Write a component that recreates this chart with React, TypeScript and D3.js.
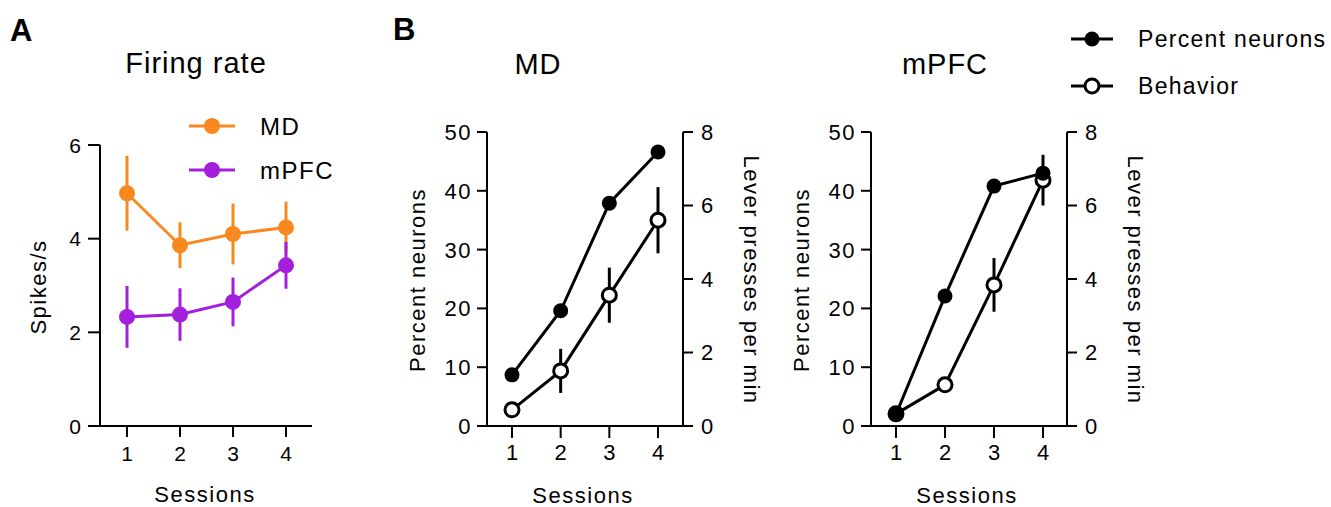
import { scaleLinear, line } from 'd3'

const FONT = '"Liberation Sans", Arial, Helvetica, sans-serif'

// Panel A: firing rate (spikes/s), mean and SEM per session
const sessions = [1, 2, 3, 4]
const firingTicks = [0, 2, 4, 6]
const firingMD = [4.97, 3.86, 4.1, 4.24]
const firingMDErr = [0.8, 0.49, 0.65, 0.55]
const firingPFC = [2.33, 2.38, 2.65, 3.43]
const firingPFCErr = [0.66, 0.56, 0.52, 0.5]

// Panel B: percent neurons (left axis) and behaviour (lever presses, right axis)
const percentTicks = [0, 10, 20, 30, 40, 50]
const leverTicks = [0, 2, 4, 6, 8]
const mdPercent = [8.7, 19.6, 37.9, 46.6]
const mdBehavior = [0.44, 1.5, 3.56, 5.6]
const mdBehaviorErr = [0.12, 0.6, 0.75, 0.9]
const pfcPercent = [2.0, 22.1, 40.8, 43.0]
const pfcBehavior = [0.33, 1.12, 3.84, 6.69]
const pfcBehaviorErr = [0.1, 0.18, 0.73, 0.69]

const ORANGE = '#f7891f'
const PURPLE = '#a31fdc'

const labelFont = { fontSize: 22, letterSpacing: 1.5 }
const titleFont = { fontSize: 29, letterSpacing: 1 }

function FiringPanel() {
	const axisX = 100
	const axisEnd = 312
	const x = scaleLinear().domain([1, 4]).range([127, 286])
	const y = scaleLinear().domain([0, 6]).range([426, 145])
	const path = line<number>()
		.x((_, i) => x(sessions[i]))
		.y((d) => y(d))

	const series = [
		{ name: 'MD', color: ORANGE, values: firingMD, err: firingMDErr },
		{ name: 'mPFC', color: PURPLE, values: firingPFC, err: firingPFCErr },
	]

	return (
		<g>
			<text x={10} y={41} fontSize={31} fontWeight="bold">A</text>
			<text x={196} y={73} textAnchor="middle" {...titleFont}>Firing rate</text>

			{/* axes */}
			<line x1={axisX} x2={axisX} y1={y(6)} y2={y(0)} stroke="#000" strokeWidth={2} />
			<line x1={axisX - 12} x2={axisEnd} y1={y(0)} y2={y(0)} stroke="#000" strokeWidth={2} />
			{firingTicks.map((t) => (
				<g key={t}>
					<line x1={axisX - 12} x2={axisX} y1={y(t)} y2={y(t)} stroke="#000" strokeWidth={2} />
					<text x={axisX - 18} y={y(t)} dy="0.36em" textAnchor="end" fontSize={21} letterSpacing={1}>{t}</text>
				</g>
			))}
			{sessions.map((s) => (
				<g key={s}>
					<line x1={x(s)} x2={x(s)} y1={y(0)} y2={y(0) + 11} stroke="#000" strokeWidth={2} />
					<text x={x(s)} y={453} dy="0.36em" textAnchor="middle" fontSize={21}>{s}</text>
				</g>
			))}
			<text transform="translate(38,287) rotate(-90)" textAnchor="middle" dominantBaseline="central" {...labelFont}>
				Spikes/s
			</text>
			<text x={205} y={502} textAnchor="middle" {...labelFont}>Sessions</text>

			{series.map((s) => (
				<g key={s.name}>
					<path d={path(s.values) ?? ''} fill="none" stroke={s.color} strokeWidth={3} />
					{s.values.map((v, i) => (
						<line
							key={i}
							x1={x(sessions[i])}
							x2={x(sessions[i])}
							y1={y(v - s.err[i])}
							y2={y(v + s.err[i])}
							stroke={s.color}
							strokeWidth={3}
						/>
					))}
					{s.values.map((v, i) => (
						<circle key={i} cx={x(sessions[i])} cy={y(v)} r={8} fill={s.color} />
					))}
				</g>
			))}

			{/* legend */}
			{series.map((s, i) => {
				const ly = 126 + i * 44
				return (
					<g key={s.name}>
						<line x1={189} x2={235} y1={ly} y2={ly} stroke={s.color} strokeWidth={3} />
						<circle cx={212} cy={ly} r={8} fill={s.color} />
						<text x={260} y={ly} dy="0.36em" fontSize={24} letterSpacing={1.5}>{s.name}</text>
					</g>
				)
			})}
		</g>
	)
}

interface NeuronPanelProps {
	title: string
	titleX: number
	leftAxis: number
	rightAxis: number
	firstX: number
	lastX: number
	percent: number[]
	behavior: number[]
	behaviorErr: number[]
}

function NeuronPanel({ title, titleX, leftAxis, rightAxis, firstX, lastX, percent, behavior, behaviorErr }: NeuronPanelProps) {
	const x = scaleLinear().domain([1, 4]).range([firstX, lastX])
	const yLeft = scaleLinear().domain([0, 50]).range([426, 132])
	const yRight = scaleLinear().domain([0, 8]).range([426, 132])
	const percentPath = line<number>()
		.x((_, i) => x(sessions[i]))
		.y((d) => yLeft(d))
	const behaviorPath = line<number>()
		.x((_, i) => x(sessions[i]))
		.y((d) => yRight(d))

	return (
		<g>
			<text x={titleX} y={74} textAnchor="middle" {...titleFont}>{title}</text>

			<line x1={leftAxis} x2={leftAxis} y1={yLeft(50)} y2={yLeft(0)} stroke="#000" strokeWidth={2} />
			<line x1={rightAxis} x2={rightAxis} y1={yRight(8)} y2={yRight(0)} stroke="#000" strokeWidth={2} />
			<line x1={leftAxis - 10} x2={rightAxis + 10} y1={yLeft(0)} y2={yLeft(0)} stroke="#000" strokeWidth={2} />
			{percentTicks.map((t) => (
				<g key={t}>
					<line x1={leftAxis - 10} x2={leftAxis} y1={yLeft(t)} y2={yLeft(t)} stroke="#000" strokeWidth={2} />
					<text x={leftAxis - 15} y={yLeft(t)} dy="0.36em" textAnchor="end" fontSize={22} letterSpacing={1.5}>{t}</text>
				</g>
			))}
			{leverTicks.map((t) => (
				<g key={t}>
					<line x1={rightAxis} x2={rightAxis + 10} y1={yRight(t)} y2={yRight(t)} stroke="#000" strokeWidth={2} />
					<text x={rightAxis + 18} y={yRight(t)} dy="0.36em" fontSize={22}>{t}</text>
				</g>
			))}
			{sessions.map((s) => (
				<g key={s}>
					<line x1={x(s)} x2={x(s)} y1={yLeft(0)} y2={yLeft(0) + 12} stroke="#000" strokeWidth={2} />
					<text x={x(s)} y={452} dy="0.36em" textAnchor="middle" fontSize={22}>{s}</text>
				</g>
			))}
			<text
				transform={`translate(${leftAxis - 70},280) rotate(-90)`}
				textAnchor="middle"
				dominantBaseline="central"
				{...labelFont}
			>
				Percent neurons
			</text>
			<text
				transform={`translate(${rightAxis + 68},280) rotate(90)`}
				textAnchor="middle"
				dominantBaseline="central"
				{...labelFont}
			>
				Lever presses per min
			</text>
			<text x={(leftAxis + rightAxis) / 2 - 2} y={503} textAnchor="middle" {...labelFont}>Sessions</text>

			<path d={percentPath(percent) ?? ''} fill="none" stroke="#000" strokeWidth={3} />
			<path d={behaviorPath(behavior) ?? ''} fill="none" stroke="#000" strokeWidth={3} />
			{behavior.map((v, i) => (
				<line
					key={i}
					x1={x(sessions[i])}
					x2={x(sessions[i])}
					y1={yRight(v + behaviorErr[i])}
					y2={yRight(v - behaviorErr[i])}
					stroke="#000"
					strokeWidth={3}
				/>
			))}
			{behavior.map((v, i) => (
				<circle key={i} cx={x(sessions[i])} cy={yRight(v)} r={7} fill="#fff" stroke="#000" strokeWidth={3} />
			))}
			{percent.map((v, i) => (
				<circle key={i} cx={x(sessions[i])} cy={yLeft(v)} r={7.5} fill="#000" />
			))}
		</g>
	)
}

export default function App() {
	return (
		<svg
			width={1331}
			height={507}
			style={{ position: 'absolute', left: 0, top: 0, background: '#fff' }}
			fontFamily={FONT}
		>
			<FiringPanel />
			<text x={393} y={40} fontSize={31} fontWeight="bold">B</text>
			<NeuronPanel
				title="MD"
				titleX={538}
				leftAxis={487}
				rightAxis={683}
				firstX={512}
				lastX={658}
				percent={mdPercent}
				behavior={mdBehavior}
				behaviorErr={mdBehaviorErr}
			/>
			<NeuronPanel
				title="mPFC"
				titleX={945}
				leftAxis={871}
				rightAxis={1067}
				firstX={896}
				lastX={1043}
				percent={pfcPercent}
				behavior={pfcBehavior}
				behaviorErr={pfcBehaviorErr}
			/>

			{/* legend for panel B */}
			<g>
				<line x1={1071} x2={1113} y1={39} y2={39} stroke="#000" strokeWidth={3} />
				<circle cx={1092} cy={39} r={7.5} fill="#000" />
				<text x={1138} y={39} dy="0.36em" fontSize={23} letterSpacing={1.3}>Percent neurons</text>
				<line x1={1071} x2={1113} y1={86} y2={86} stroke="#000" strokeWidth={3} />
				<circle cx={1092} cy={86} r={7} fill="#fff" stroke="#000" strokeWidth={3} />
				<text x={1138} y={86} dy="0.36em" fontSize={23} letterSpacing={1.3}>Behavior</text>
			</g>
		</svg>
	)
}
